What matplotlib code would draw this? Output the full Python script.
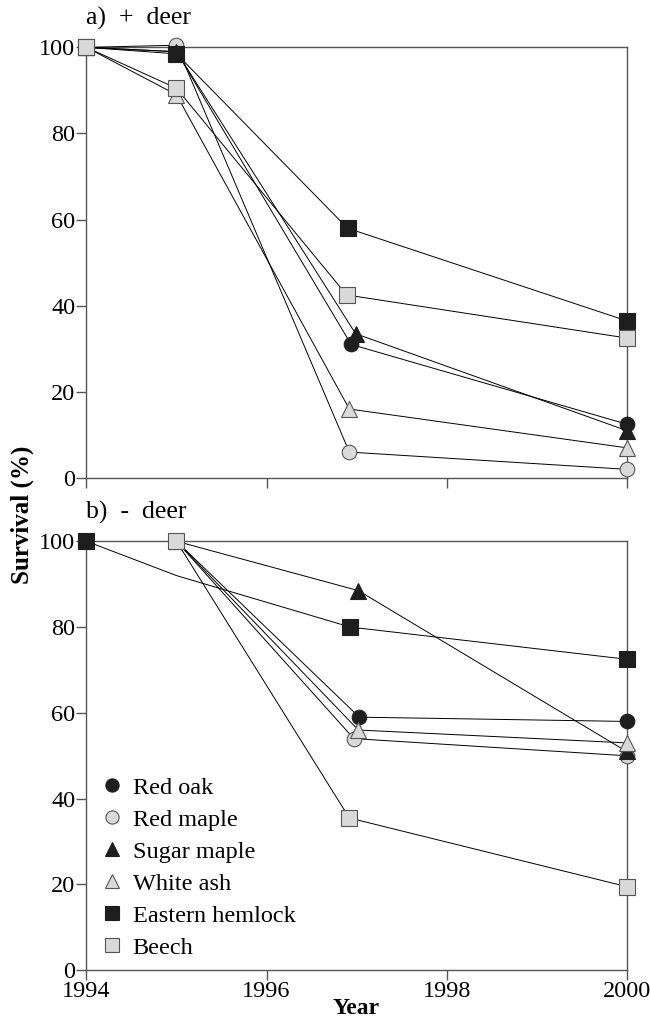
import numpy as np
import matplotlib.pyplot as plt
from matplotlib.lines import Line2D

plt.rcParams['font.family'] = ['Liberation Serif', 'DejaVu Serif']

species = ['Red oak', 'Red maple', 'Sugar maple', 'White ash', 'Eastern hemlock', 'Beech']

# a) + deer
yrs_a = {
    'Red oak':         [1994, 1995, 1996.94, 2000],
    'Red maple':       [1994, 1995, 1996.92, 2000],
    'Sugar maple':     [1994, 1995, 1996.99, 2000],
    'White ash':       [1994, 1995, 1996.92, 2000],
    'Eastern hemlock': [1994, 1995, 1996.90, 2000],
    'Beech':           [1994, 1995, 1996.89, 2000],
}
surv_a = {
    'Red oak':         [100, 99, 31, 12.5],
    'Red maple':       [100, 100.5, 6, 2],
    'Sugar maple':     [100, 99, 33.5, 11],
    'White ash':       [100, 89, 16, 7],
    'Eastern hemlock': [100, 98.5, 58, 36.5],
    'Beech':           [100, 90.5, 42.5, 32.5],
}

# b) - deer
yrs_b = {
    'Red oak':         [1995, 1997.03, 2000],
    'Red maple':       [1995, 1996.97, 2000],
    'Sugar maple':     [1995, 1997.02, 2000],
    'White ash':       [1995, 1997.02, 2000],
    'Eastern hemlock': [1994, 1995, 1996.93, 2000],
    'Beech':           [1995, 1996.92, 2000],
}
surv_b = {
    'Red oak':         [100, 59, 58],
    'Red maple':       [100, 54, 50],
    'Sugar maple':     [100, 88.5, 51],
    'White ash':       [100, 56, 53],
    'Eastern hemlock': [100, 92, 80, 72.5],
    'Beech':           [100, 35.5, 19.5],
}

dark = '#1e1e1e'
light = '#d9d9d9'
edge_l = '#555555'
style = {
    'Red oak':         ('o', dark, dark, 10.5),
    'Red maple':       ('o', light, edge_l, 10.5),
    'Sugar maple':     ('^', dark, dark, 11.5),
    'White ash':       ('^', light, edge_l, 11.5),
    'Eastern hemlock': ('s', dark, dark, 11),
    'Beech':           ('s', light, edge_l, 11),
}


def draw(ax, yrs, surv, hide=None):
    for sp in species:
        m, fc, ec, ms = style[sp]
        x = yrs[sp]
        y = surv[sp]
        every = list(range(len(x)))
        if hide and sp in hide:
            every = [i for i in every if i not in hide[sp]]
        ax.plot(x, y, color='black', lw=0.7, marker=m, markersize=ms,
                markerfacecolor=fc, markeredgecolor=ec, markeredgewidth=0.8,
                markevery=every, clip_on=False, zorder=3)
    ax.set_xlim(1994, 2000)
    ax.set_ylim(0, 100)
    ax.set_xticks([1994, 1996, 1998, 2000])
    ax.set_yticks([0, 20, 40, 60, 80, 100])
    for s in ax.spines.values():
        s.set_color('#555555')
        s.set_linewidth(1.0)
    ax.tick_params(direction='out', length=7, width=1, color='#555555',
                   labelsize=17.5, pad=1)


fig = plt.figure(figsize=[6.5, 10.3], dpi=100)
ax1 = fig.add_axes([0.133, 0.536, 0.831, 0.418])
ax2 = fig.add_axes([0.133, 0.058, 0.831, 0.4165])

draw(ax1, yrs_a, surv_a)
ax1.tick_params(axis='x', labelbottom=False)
draw(ax2, yrs_b, surv_b, hide={'Eastern hemlock': [1]})

ax1.text(0.0, 1.04, 'a)  +  deer', transform=ax1.transAxes, fontsize=18.5,
         ha='left', va='bottom')
ax2.text(0.0, 1.04, 'b)  -  deer', transform=ax2.transAxes, fontsize=18.5,
         ha='left', va='bottom')

ax2.set_xlabel('Year', fontsize=17, fontweight='bold', labelpad=-3)
fig.text(0.034, 0.50, 'Survival (%)', rotation=90, fontsize=18,
         fontweight='bold', ha='center', va='center')

handles = []
for sp in species:
    m, fc, ec, ms = style[sp]
    handles.append(Line2D([], [], ls='none', marker=m, markersize=ms - 1,
                          markerfacecolor=fc, markeredgecolor=ec,
                          markeredgewidth=0.8, label=sp))
ax2.legend(handles=handles, loc='upper left', bbox_to_anchor=(-0.009, 0.491),
           frameon=False, fontsize=17.5, handletextpad=0.3, labelspacing=0.41,
           borderaxespad=0.3, handlelength=1.1)

fig.savefig('out.png', dpi=100)
